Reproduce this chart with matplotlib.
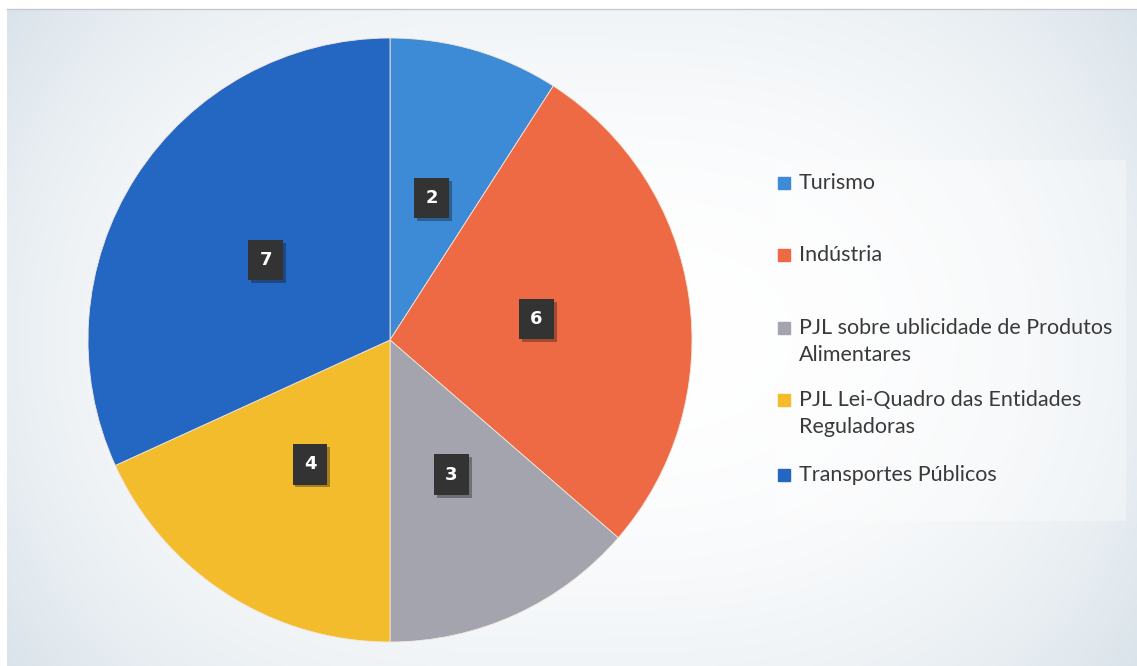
import numpy as np
from matplotlib import pyplot as plt
from matplotlib import patheffects as pe
from matplotlib.patches import Rectangle

labels = ['Turismo', 'Indústria', 'PJL sobre ublicidade de Produtos\nAlimentares',
          'PJL Lei-Quadro das Entidades\nReguladoras', 'Transportes Públicos']
values = [2, 6, 3, 4, 7]
colors = ['#3D8BD6', '#EE6A45', '#A3A4AE', '#F3BC2C', '#2467C2']
legend_y = [183, 255, 328, 400, 475]   # pixel rows of the legend entries

W, H = 1137, 666
fig = plt.figure(figsize=(W / 100, H / 100), dpi=100)
fig.patch.set_facecolor('white')

# scanned-slide background: pale grey-blue towards the edges
bg = fig.add_axes([7 / W, 0, 1 - 7 / W, 1 - 9 / H])
xx = np.linspace(-1, 1, 400)
yy = np.linspace(-1, 1, 240)
gx, gy = np.meshgrid(xx, yy)
shade = np.clip(0.55 * np.abs(gx) ** 3 + 0.35 * np.abs(gy) ** 2, 0, 1)
rgb = np.dstack([1 - 0.16 * shade, 1 - 0.12 * shade, 1 - 0.09 * shade])
bg.imshow(rgb, aspect='auto', extent=[0, 1, 0, 1])
bg.add_patch(Rectangle((0.68, 0.22), 0.31, 0.55, color='white', alpha=0.35, lw=0))
bg.set_axis_off()
fig.add_artist(plt.Line2D([7 / W, 1], [1 - 9 / H] * 2, color='#c8c8cc', lw=1))

# pie
cx, cy, r = 390, 340, 302
ax = fig.add_axes([(cx - r) / W, (H - cy - r) / H, 2 * r / W, 2 * r / H])
wedges, texts = ax.pie(values, colors=colors, startangle=90, counterclock=False,
                       labels=[str(v) for v in values], labeldistance=0.49,
                       wedgeprops=dict(edgecolor='#f3e6dc', linewidth=0.6))
for t in texts:
    t.set_color('white')
    t.set_fontsize(13)
    t.set_fontweight('bold')
    t.set_ha('center')
    t.set_va('center')
    t.set_bbox(dict(boxstyle='square,pad=0.62', fc='#333333', ec='none'))
    t.get_bbox_patch().set_path_effects([pe.withSimplePatchShadow(offset=(2, -2), alpha=0.35)])
ax.set_xlim(-1, 1)
ax.set_ylim(-1, 1)
ax.set_aspect('equal')

# legend drawn by hand to keep the uneven spacing of the slide
for lab, col, y in zip(labels, colors, legend_y):
    fig.add_artist(Rectangle((778 / W, (H - y - 6) / H), 12 / W, 12 / H, color=col,
                             transform=fig.transFigure))
    for i, line in enumerate(lab.split('\n')):
        fig.text(799 / W, (H - y - 27 * i) / H, line, fontsize=15.5, family='Lato',
                 color='#3a3a3a', va='center')

fig.savefig('out.png', dpi=100)
